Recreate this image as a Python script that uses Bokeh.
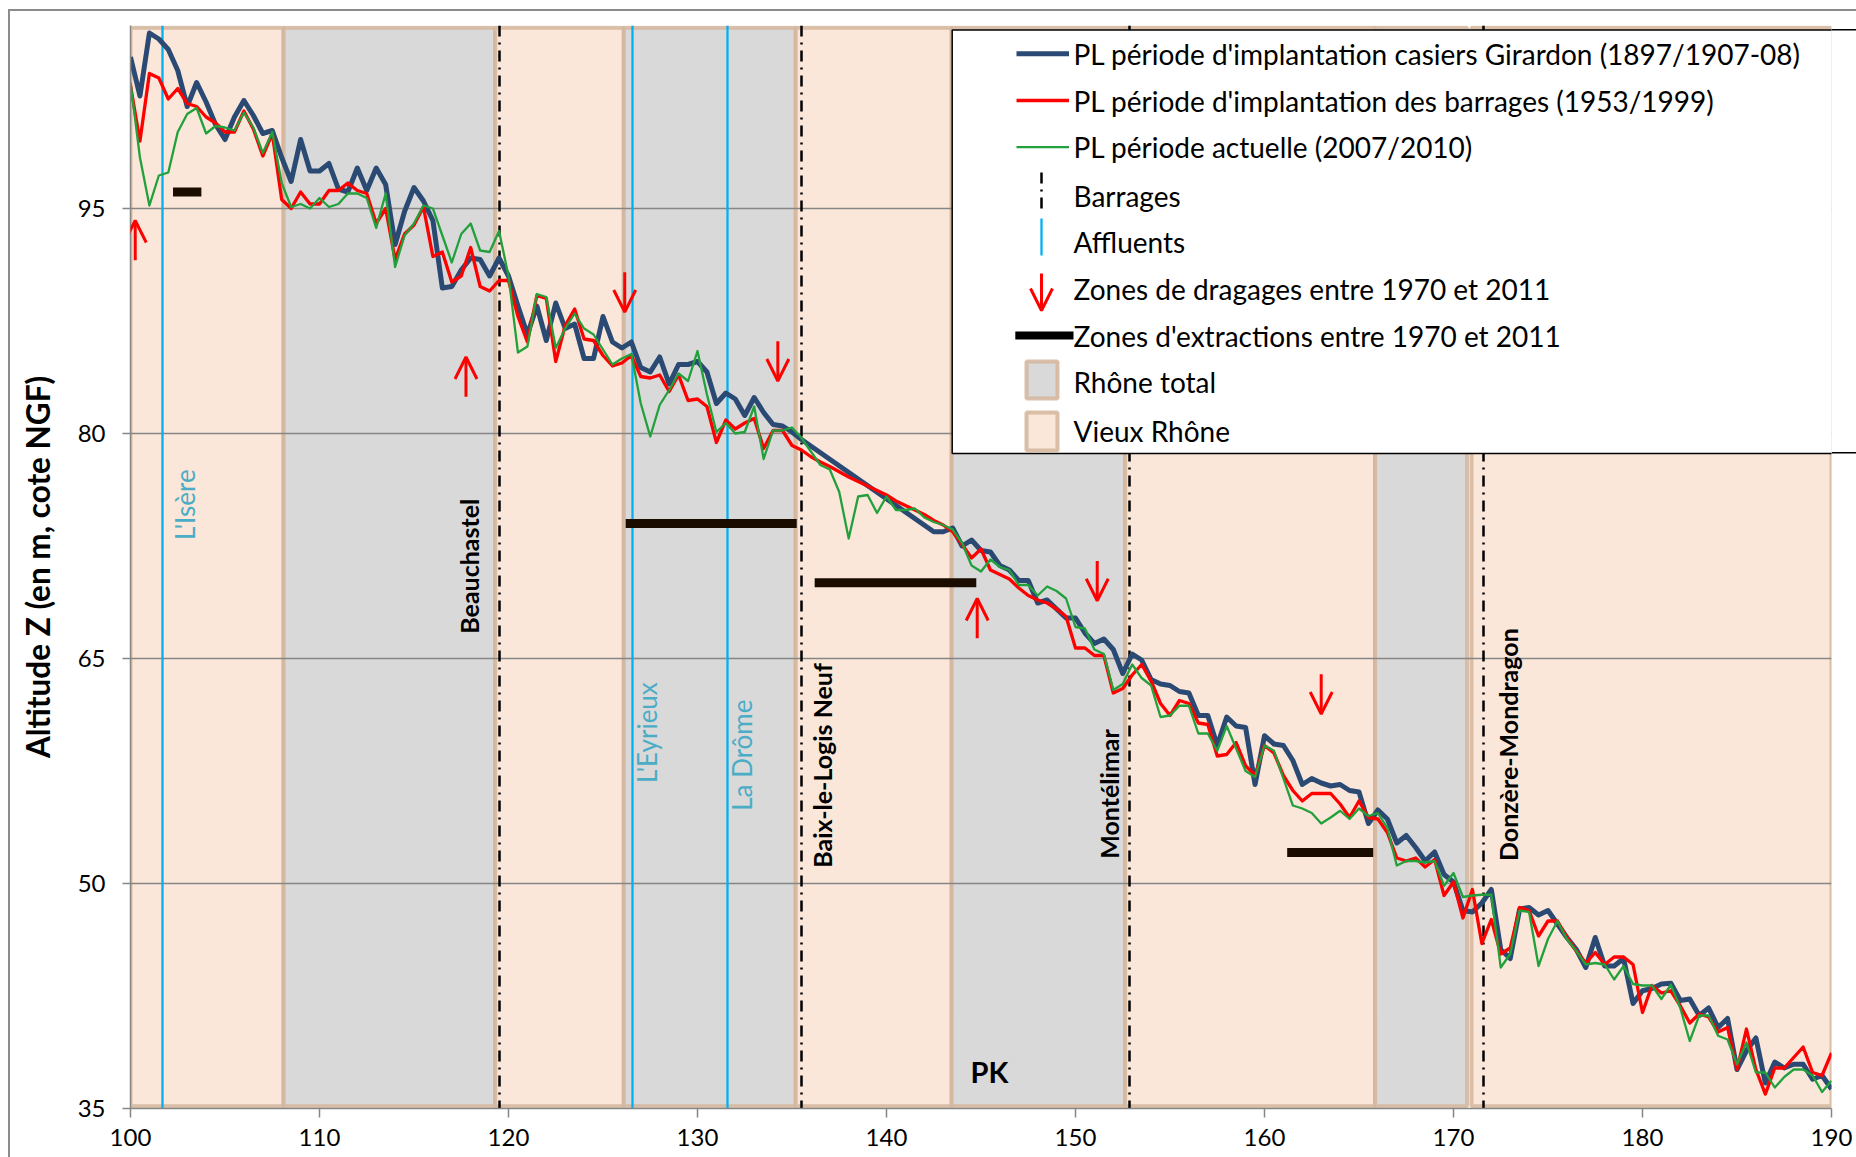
import numpy as np
from bokeh.plotting import figure
from bokeh.models import (ColumnDataSource, Range1d, FixedTicker, Arrow, OpenHead, Label)
from bokeh.embed import file_html
from bokeh.resources import INLINE

# ------------------------------------------------------------------ data
# PL période d'implantation casiers Girardon (1897/1907-08)
pk_girardon = (np.arange(100.0, 135.51, 0.5).tolist() + np.arange(142.5, 190.01, 0.5).tolist())
z_girardon = [
    105.1, 102.5, 106.7, 106.3, 105.6, 104.2, 101.8, 103.4, 102.1, 100.6,
    99.6, 101.1, 102.2, 101.2, 100.0, 100.2, 98.4, 96.8, 99.6, 97.5,
    97.5, 98.0, 96.3, 96.1, 97.7, 96.2, 97.7, 96.6, 92.6, 94.8,
    96.4, 95.5, 94.2, 89.7, 89.8, 90.9, 91.7, 91.6, 90.5, 91.7,
    90.5, 88.5, 86.6, 88.5, 86.2, 88.7, 87.0, 87.3, 85.0, 85.0,
    87.8, 86.1, 85.7, 86.1, 84.4, 84.1, 85.1, 83.3, 84.6, 84.6,
    84.8, 84.1, 82.0, 82.7, 82.3, 81.2, 82.4, 81.4, 80.6, 80.5,
    80.1, 79.6,
    73.45, 73.45, 73.7, 72.5, 72.9, 72.2, 72.1, 71.2, 70.9, 70.2,
    70.2, 68.7, 68.9, 68.3, 67.7, 67.7, 66.7, 66.0, 66.3, 65.6,
    64.0, 65.3, 64.9, 63.6, 63.3, 63.2, 62.8, 62.7, 61.2, 61.2,
    59.2, 61.1, 60.5, 60.4, 56.6, 59.85, 59.3, 59.2, 58.2, 56.6,
    57.0, 56.7, 56.5, 56.6, 56.2, 56.1, 54.0, 54.9, 54.3, 52.7,
    53.2, 52.4, 51.5, 52.1, 50.6, 50.1, 48.2, 48.1, 48.7, 49.6,
    45.6, 45.0, 48.3, 48.4, 47.9, 48.2, 47.3, 46.4, 45.6, 44.4,
    46.4, 44.5, 44.5, 45.0, 42.0, 42.85, 43.0, 43.3, 43.35, 42.2,
    42.3, 41.2, 41.7, 40.4, 41.0, 37.6, 38.85, 39.7, 36.7, 38.1,
    37.7, 37.95, 37.95, 36.95, 37.2, 36.3,
]

# PL période d'implantation des barrages (1953/1999)
pk_barrages_periode = np.arange(100.0, 190.01, 0.5).tolist()
z_barrages_periode = [
    103.2, 99.5, 104.0, 103.7, 102.3, 103.0, 102.0, 101.8, 101.1, 100.7,
    100.1, 100.1, 101.5, 100.3, 98.5, 100.0, 95.6, 95.0, 96.1, 95.3,
    95.3, 96.2, 96.2, 96.7, 96.2, 96.0, 94.0, 95.0, 91.6, 93.3,
    93.9, 95.1, 91.8, 92.1, 90.1, 90.5, 92.4, 89.8, 89.5, 90.2,
    90.2, 87.8, 86.1, 89.2, 89.0, 84.8, 87.2, 88.3, 86.3, 86.2,
    85.2, 84.5, 84.7, 85.2, 83.8, 83.7, 83.9, 82.8, 83.9, 82.2,
    82.3, 81.8, 79.4, 80.9, 80.3, 80.7, 81.0, 79.0, 80.2, 80.2,
    79.2, 78.9, 78.45, 78.1, 77.8, 77.45, 77.1, 76.8, 76.5, 76.2,
    75.9, 75.5, 75.2, 74.9, 74.6, 74.2, 73.9, 73.45, 72.6, 71.7,
    72.3, 70.9, 70.6, 70.3, 69.7, 69.2, 68.9, 68.7, 68.3, 67.8,
    65.7, 65.7, 65.2, 65.2, 62.7, 63.0, 63.9, 64.6, 63.5, 62.0,
    61.2, 62.2, 62.0, 60.7, 60.6, 58.5, 58.6, 59.4, 57.85, 57.2,
    59.2, 58.7, 57.2, 56.2, 55.5, 56.0, 56.0, 56.0, 55.3, 54.4,
    55.5, 54.4, 54.3, 53.4, 51.7, 51.5, 51.7, 51.1, 51.6, 49.2,
    50.1, 47.7, 49.6, 46.0, 47.6, 45.3, 45.7, 48.4, 48.2, 46.5,
    47.5, 47.5, 46.4, 45.5, 44.7, 45.4, 44.6, 45.1, 45.1, 44.6,
    41.4, 43.2, 42.7, 42.85, 41.85, 40.7, 41.3, 41.1, 40.1, 40.4,
    37.6, 40.3, 37.6, 35.96, 37.7, 37.7, 38.4, 39.1, 37.4, 37.2,
    38.7,
]

# PL période actuelle (2007/2010)
pk_actuelle = np.arange(100.0, 190.01, 0.5).tolist()
z_actuelle = [
    103.4, 98.4, 95.2, 97.2, 97.4, 100.1, 101.3, 101.7, 100.0, 100.5,
    100.4, 100.2, 101.4, 100.4, 98.7, 100.1, 96.7, 95.1, 95.3, 95.0,
    95.7, 95.1, 95.3, 96.0, 96.0, 95.7, 93.7, 96.0, 91.1, 93.2,
    94.0, 95.2, 95.0, 93.2, 91.4, 93.3, 94.0, 92.2, 92.1, 93.5,
    90.5, 85.4, 85.8, 89.3, 89.1, 85.7, 87.0, 88.0, 87.0, 86.6,
    85.6, 84.6, 85.0, 85.3, 82.0, 79.8, 81.9, 82.9, 84.0, 83.5,
    85.5, 82.6, 80.1, 80.7, 80.0, 80.1, 81.8, 78.3, 80.2, 80.2,
    80.4, 79.7, 78.8, 77.9, 77.6, 76.1, 73.0, 75.8, 75.9, 74.7,
    75.8, 74.9, 74.9, 75.0, 74.4, 74.1, 73.9, 73.6, 72.7, 71.2,
    70.8, 71.6, 71.1, 70.9, 69.9, 69.9, 69.2, 69.8, 69.5, 69.0,
    67.1, 67.0, 65.6, 65.3, 62.9, 63.3, 64.6, 63.7, 63.2, 61.1,
    61.2, 61.85, 61.85, 60.0, 60.0, 58.85, 60.5, 59.0, 57.5, 57.1,
    59.2, 58.85, 57.0, 55.2, 55.0, 54.7, 54.0, 54.4, 54.85, 54.3,
    55.0, 54.5, 54.7, 53.7, 51.2, 51.5, 51.5, 51.4, 51.5, 49.85,
    50.7, 49.1, 49.2, 49.25, 49.25, 44.4, 45.3, 48.2, 48.1, 44.5,
    46.3, 47.5, 46.3, 45.5, 44.6, 44.7, 44.6, 43.6, 44.5, 43.3,
    43.2, 43.2, 42.3, 43.25, 41.7, 39.5, 41.2, 41.2, 39.85, 39.6,
    37.95, 39.4, 37.4, 37.4, 36.4, 37.1, 37.6, 37.6, 37.2, 36.1,
    36.85,
]

# Barrages (dams)
barrages_pk = [119.5, 135.5, 152.88, 171.6]
barrages_noms = ["Beauchastel", "Baix-le-Logis Neuf", "Montélimar", "Donzère-Mondragon"]

# Affluents (tributaries)
affluents_pk = [101.7, 126.56, 131.58]
affluents_noms = ["L'Isère", "L'Eyrieux", "La Drôme"]

# Zones de dragages (arrow tip position, direction)
dragages_pk = [100.25, 117.75, 126.15, 134.25, 144.8, 151.15, 163.0]
dragages_z = [94.2, 85.1, 88.1, 83.5, 69.0, 68.85, 61.3]
dragages_sens = ["haut", "haut", "bas", "bas", "haut", "bas", "bas"]

# Zones d'extractions
extractions_debut = [102.25, 126.2, 136.2, 161.2]
extractions_fin = [103.75, 135.25, 144.75, 165.75]
extractions_z = [96.1, 74.0, 70.05, 52.07]

# Secteurs : Vieux Rhône / Rhône total
secteurs_debut = [100.0, 108.1, 119.3, 126.1, 135.2, 143.45, 152.63, 165.85, 170.95]
secteurs_fin = [108.1, 119.3, 126.1, 135.2, 143.45, 152.63, 165.85, 170.72, 190.0]
secteurs_type = ["Vieux Rhône", "Rhône total", "Vieux Rhône", "Rhône total", "Vieux Rhône",
                 "Rhône total", "Vieux Rhône", "Rhône total", "Vieux Rhône"]

x_ticks = [100, 110, 120, 130, 140, 150, 160, 170, 180, 190]
y_ticks = [35, 50, 65, 80, 95]

# ------------------------------------------------------------------ styles
BLUE = "#2A4A73"
RED = "#FF0000"
GREEN = "#22A03C"
AFF = "#00B0F0"
AFF_TXT = "#4BACC6"
ORANGE = "#FAE7D9"
GREY = "#D9D9D9"
BORDER = "#D4B59B"
EXTR = "#1A0D00"
FONT = "Lato"

W, H = 1856, 1157
BL, BR, BT, BB = 130, 25, 25, 49
X0, X1 = 100, 190
Y0, Y1 = 35, 107.2

p = figure(width=W, height=H, output_backend="svg", toolbar_location=None,
           x_range=Range1d(X0, X1), y_range=Range1d(Y0, Y1),
           min_border_left=BL, min_border_right=BR, min_border_top=BT, min_border_bottom=BB)
p.background_fill_color = "white"
p.border_fill_color = "white"
p.border_fill_alpha = 0.0
p.outline_line_color = None
# chart-area frame of the original (top and left edges visible), plus the part of
# the legend box that runs past the plotting area on the right
p.styles = {
    "background": ("linear-gradient(#8C8C8C, #8C8C8C) 9px 9px / 4000px 2px no-repeat, "
                   "linear-gradient(#8C8C8C, #8C8C8C) 8px 9px / 2px 4000px no-repeat, "
                   "linear-gradient(#000, #000) 1830px 28.6px / 60px 1.5px no-repeat, "
                   "linear-gradient(#000, #000) 1830px 452.3px / 60px 1.5px no-repeat, white"),
}

# helpers: convert page-pixel layout positions to data coords
FW = W - BL - BR
FH = H - BT - BB
def km_at(sx):
    return X0 + (sx - BL) * (X1 - X0) / FW
def z_at(sy):
    return Y0 + (H - BB - sy) * (Y1 - Y0) / FH

# axes
p.xaxis.ticker = FixedTicker(ticks=x_ticks)
p.yaxis.ticker = FixedTicker(ticks=y_ticks)
for ax in (p.xaxis[0], p.yaxis[0]):
    ax.axis_line_color = "#868686"
    ax.axis_line_width = 1.5
    ax.major_tick_line_color = "#868686"
    ax.major_tick_line_width = 1.5
    ax.major_tick_in = 0
    ax.minor_tick_line_color = None
    ax.major_label_text_font = FONT
    ax.major_label_text_font_size = "24px"
    ax.major_label_text_color = "black"
p.xaxis.major_tick_out = 9
p.yaxis.major_tick_out = 8
p.xaxis.major_label_standoff = 11
p.yaxis.major_label_standoff = 17
p.yaxis.axis_label = "Altitude Z (en m, cote NGF)"
p.yaxis.axis_label_text_font = FONT
p.yaxis.axis_label_text_font_style = "bold"
p.yaxis.axis_label_text_font_size = "31.5px"
p.yaxis.axis_label_text_color = "black"
p.yaxis.axis_label_standoff = 18
p.xgrid.visible = False
p.ygrid.grid_line_color = "#868686"
p.ygrid.grid_line_width = 1.3

# sector bands
band_src = ColumnDataSource(dict(
    left=secteurs_debut, right=secteurs_fin,
    fill=[ORANGE if t == "Vieux Rhône" else GREY for t in secteurs_type]))
p.quad(left="left", right="right", bottom=Y0 + 0.15, top=Y1 - 0.15, source=band_src,
       fill_color="fill", line_color=BORDER, line_width=4, line_alpha=0.85, level="image")

# tributaries and dams
p.vspan(x=affluents_pk, line_color=AFF, line_width=2.3)
p.vspan(x=barrages_pk, line_color="black", line_width=2.5, line_dash="11 6 2 6")

# profiles
p.line(pk_girardon, z_girardon, line_color=BLUE, line_width=5, line_join="round")
p.line(pk_barrages_periode, z_barrages_periode, line_color=RED, line_width=3.3, line_join="round")
p.line(pk_actuelle, z_actuelle, line_color=GREEN, line_width=2.3, line_join="round")

# extraction zones
p.segment(x0=extractions_debut, y0=extractions_z, x1=extractions_fin, y1=extractions_z,
          line_color=EXTR, line_width=9, line_cap="butt")

# dredging arrows
ARROW_LEN = 2.65
tails = [z - ARROW_LEN if s == "haut" else z + ARROW_LEN for z, s in zip(dragages_z, dragages_sens)]
arr_src = ColumnDataSource(dict(x0=dragages_pk, y0=tails, x1=dragages_pk, y1=dragages_z))
p.add_layout(Arrow(source=arr_src, x_start="x0", y_start="y0", x_end="x1", y_end="y1",
                   line_color=RED, line_width=3,
                   end=OpenHead(size=22, line_color=RED, line_width=3)))

# labels for dams / tributaries
dam_start = [66.65, 51.05, 51.65, 51.5]
dam_dx = [-30, 21, -21, 24]
for x, name, y0, dx in zip(barrages_pk, barrages_noms, dam_start, dam_dx):
    p.add_layout(Label(x=x, y=y0, x_offset=dx, text=name, angle=90, angle_units="deg",
                       text_font=FONT, text_font_style="bold", text_font_size="25px",
                       text_color="black", text_align="left", text_baseline="middle"))
aff_start = [72.9, 56.7, 54.85]
aff_dx = [22, 15, 15]
for x, name, y0, dx in zip(affluents_pk, affluents_noms, aff_start, aff_dx):
    p.add_layout(Label(x=x, y=y0, x_offset=dx, text=name, angle=90, angle_units="deg",
                       text_font=FONT, text_font_size="26px",
                       text_color=AFF_TXT, text_align="left", text_baseline="middle"))

# "PK" axis title (inside plot, as in the original)
p.add_layout(Label(x=km_at(989), y=z_at(1071), text="PK", text_font=FONT,
                   text_font_style="bold", text_font_size="29px", text_color="black",
                   text_align="center", text_baseline="middle"))

# ------------------------------------------------------------------ legend (manual)
p.quad(left=km_at(951.7), right=km_at(1900), bottom=z_at(453), top=z_at(29.4),
       fill_color="white", line_color="black", line_width=1.5)
rows = [53.3, 100, 146.7, 195, 241.7, 288.3, 335, 381.7, 430]
lx0, lx1, lxc, ltx = km_at(1016), km_at(1068.5), km_at(1041), km_at(1073)
p.line([lx0, lx1], [z_at(rows[0])] * 2, line_color=BLUE, line_width=5)
p.line([lx0, lx1], [z_at(rows[1])] * 2, line_color=RED, line_width=3.3)
p.line([lx0, lx1], [z_at(rows[2])] * 2, line_color=GREEN, line_width=2.3)
p.line([lxc, lxc], [z_at(172), z_at(208)], line_color="black", line_width=2.5, line_dash="11 6 2 6")
p.line([lxc, lxc], [z_at(218), z_at(255)], line_color=AFF, line_width=2.3)
p.add_layout(Arrow(x_start=lxc, y_start=z_at(273), x_end=lxc, y_end=z_at(310),
                   line_color=RED, line_width=3,
                   end=OpenHead(size=22, line_color=RED, line_width=3)))
p.line([km_at(1014.8), km_at(1073)], [z_at(rows[6])] * 2, line_color="black", line_width=8,
       line_cap="butt")
p.quad(left=km_at(1026), right=km_at(1057), top=z_at(361), bottom=z_at(398),
       fill_color=GREY, line_color=BORDER, line_width=4, line_alpha=0.85)
p.quad(left=km_at(1026), right=km_at(1057), top=z_at(412), bottom=z_at(450),
       fill_color=ORANGE, line_color=BORDER, line_width=4, line_alpha=0.85)
legend_texts = [
    "PL période d'implantation casiers Girardon (1897/1907-08)",
    "PL période d'implantation des barrages (1953/1999)",
    "PL période actuelle (2007/2010)",
    "Barrages",
    "Affluents",
    "Zones de dragages entre 1970 et 2011",
    "Zones d'extractions entre 1970 et 2011",
    "Rhône total",
    "Vieux Rhône",
]
for t, ry in zip(legend_texts, rows):
    p.add_layout(Label(x=ltx, y=z_at(ry), text=t, text_font=FONT, text_font_size="28px",
                       text_color="black", text_align="left", text_baseline="middle"))

open("out.html", "w").write(file_html(p, INLINE))
